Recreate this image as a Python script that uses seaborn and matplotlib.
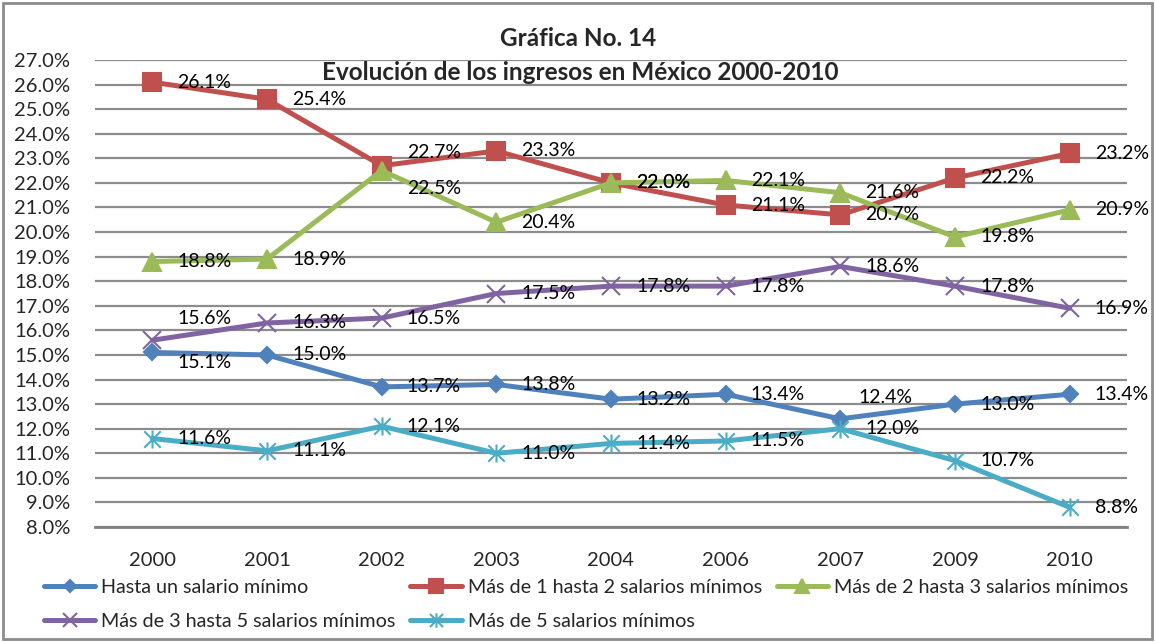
"""
grafica14.py
============
Evolución de los ingresos en México 2000-2010 (Gráfica No. 14).
"""

import matplotlib
matplotlib.use("Agg")
import matplotlib.pyplot as plt
from matplotlib.path import Path
from matplotlib.patches import Rectangle
import seaborn as sns

years = ["2000", "2001", "2002", "2003", "2004", "2006", "2007", "2009", "2010"]

hasta_1 = [15.1, 15.0, 13.7, 13.8, 13.2, 13.4, 12.4, 13.0, 13.4]
de_1_a_2 = [26.1, 25.4, 22.7, 23.3, 22.0, 21.1, 20.7, 22.2, 23.2]
de_2_a_3 = [18.8, 18.9, 22.5, 20.4, 22.0, 22.1, 21.6, 19.8, 20.9]
de_3_a_5 = [15.6, 16.3, 16.5, 17.5, 17.8, 17.8, 18.6, 17.8, 16.9]
mas_de_5 = [11.6, 11.1, 12.1, 11.0, 11.4, 11.5, 12.0, 10.7, 8.8]

names = [
    "Hasta un salario mínimo",
    "Más de 1 hasta 2 salarios mínimos",
    "Más de 2 hasta 3 salarios mínimos",
    "Más de 3 hasta 5 salarios mínimos",
    "Más de 5 salarios mínimos",
]
values = [hasta_1, de_1_a_2, de_2_a_3, de_3_a_5, mas_de_5]

colors = ["#4F81BD", "#C0504D", "#9BBB59", "#8064A2", "#4BACC6"]

# asterisk marker like Excel's "star"
star = Path(
    [(-1, -1), (1, 1), (-1, 1), (1, -1), (0, -1.1), (0, 1.1)],
    [Path.MOVETO, Path.LINETO, Path.MOVETO, Path.LINETO, Path.MOVETO, Path.LINETO],
)
markers = ["D", "s", "^", "x", star]
msizes = [8, 13, 13, 13, 13]

# label nudges in pixels (series index, point index) -> (dx, dy up)
nudge = {
    (0, 0): (0, -10),
    (0, 6): (-7, 21),
    (1, 2): (0, 13),
    (2, 2): (0, -18),
    (3, 0): (0, 22),
}

sns.set_style("white")
plt.rcParams["font.family"] = ["Lato", "DejaVu Sans"]
FS_LABEL = 14
FS_TICK = 14.5
FS_LEG = 14.2

fig = plt.figure(figsize=(11.55, 6.42), dpi=100)
ax = fig.add_axes([95 / 1155, 1 - 527 / 642, 1032 / 1155, 467 / 642])

for k, (name, vals) in enumerate(zip(names, values)):
    filled = k not in (3, 4)
    sns.lineplot(
        x=years, y=vals, ax=ax, color=colors[k], linewidth=3.6,
        marker=markers[k], markersize=msizes[k],
        markeredgecolor=colors[k], markeredgewidth=1.5,
        markerfacecolor=colors[k] if filled else "none",
        label=name, sort=False,
    )

for k, vals in enumerate(values):
    for i, v in enumerate(vals):
        dx, dy = nudge.get((k, i), (0, 0))
        ax.annotate(f"{v:.1f}%", xy=(i, v), xytext=(25 + dx, dy),
                    textcoords="offset pixels", ha="left", va="center",
                    fontsize=FS_LABEL, color="black")

ax.set_xlim(-0.5, 8.5)
ax.set_ylim(8, 27)
ax.set_yticks(range(8, 28))
ax.set_yticklabels([f"{t:.1f}%" for t in range(8, 28)])
ax.yaxis.grid(True, color="#8c8c8c", linewidth=1.6)
ax.set_axisbelow(True)
for side in ["left", "right", "top"]:
    ax.spines[side].set_visible(False)
ax.spines["bottom"].set_color("#808080")
ax.spines["bottom"].set_linewidth(2)
ax.tick_params(axis="y", length=0, pad=18, labelsize=FS_TICK)
ax.tick_params(axis="x", length=0, pad=18, labelsize=FS_TICK)
ax.set_xlabel("")
ax.set_ylabel("")

h, l = ax.get_legend_handles_labels()
ax.get_legend().remove()
order = [0, 3, 1, 4, 2]
leg = fig.legend([h[i] for i in order], [l[i] for i in order],
                 loc="upper left", bbox_to_anchor=(44 / 1155, 1 - 579 / 642),
                 ncol=3, frameon=False, fontsize=FS_LEG, borderpad=0, borderaxespad=0,
                 handlelength=2.6, handletextpad=0.3, columnspacing=0.75,
                 labelspacing=0.85, numpoints=1)
for lh, i in zip(leg.legend_handles, order):
    lh.set_markersize(msizes[i] * 0.8)

fig.text(578 / 1155, 1 - 39 / 642, "Gráfica No. 14", ha="center", va="center",
         fontsize=17.5, fontweight="bold")
fig.text(580 / 1155, 1 - 72 / 642, "Evolución de los ingresos en México 2000-2010",
         ha="center", va="center", fontsize=17.5, fontweight="bold")

fig.patches.append(Rectangle((3 / 1155, 3 / 642), 1149 / 1155, 636 / 642,
                             transform=fig.transFigure, fill=False,
                             edgecolor="#8c8c8c", linewidth=2))

fig.savefig("out.png", dpi=100)
plt.close(fig)
